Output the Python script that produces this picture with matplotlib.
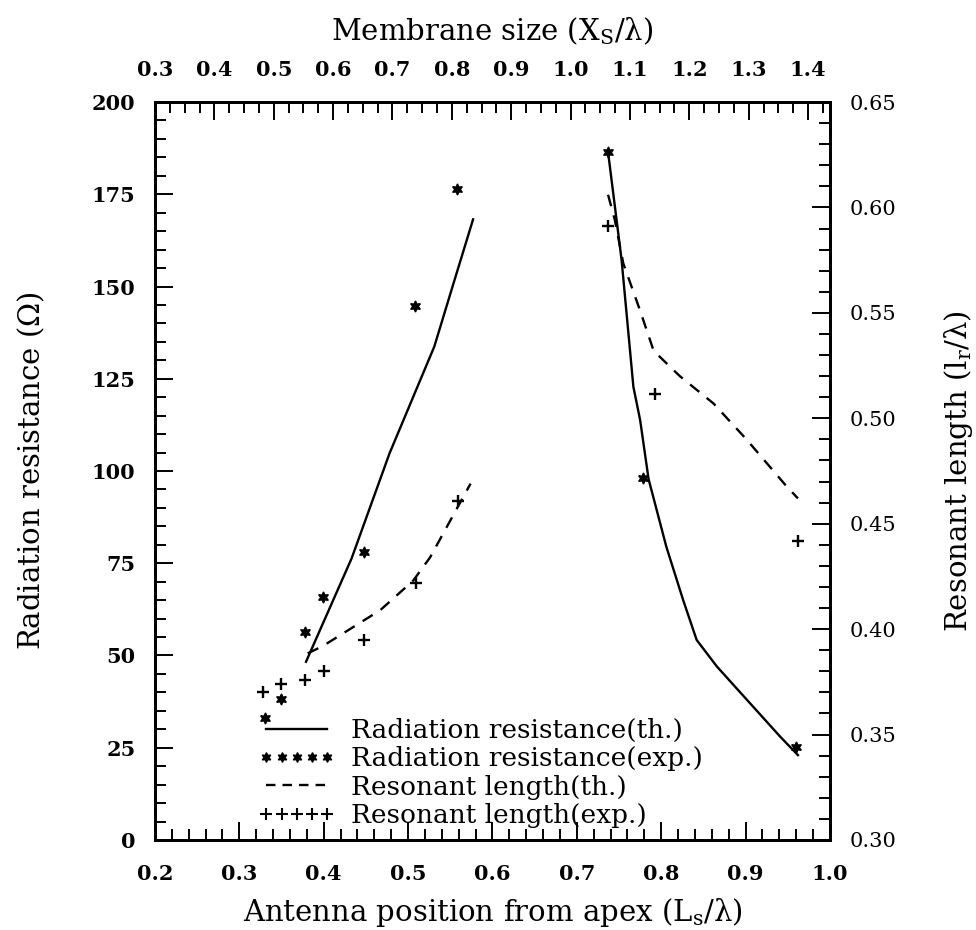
import matplotlib
matplotlib.use("Agg")
import matplotlib.pyplot as plt
from matplotlib.ticker import MultipleLocator, FormatStrFormatter
from matplotlib.lines import Line2D

# ---- data ----
# radiation resistance, theory (two branches)
pos_rth_a = [0.379, 0.433, 0.478, 0.531, 0.554, 0.577]
res_th_a = [48.3, 76.3, 104.8, 133.7, 151.0, 168.2]
pos_rth_b = [0.737, 0.753, 0.767, 0.775, 0.785, 0.806, 0.826, 0.842, 0.866, 0.909, 0.941, 0.962]
res_th_b = [186.4, 157.2, 122.8, 113.8, 97.8, 79.5, 65.0, 54.2, 47.0, 36.1, 28.0, 23.0]

# radiation resistance, experiment
pos_rexp = [0.330, 0.349, 0.378, 0.399, 0.448, 0.508, 0.558, 0.737, 0.778, 0.960]
res_exp = [33.1, 38.2, 56.4, 65.8, 78.0, 144.7, 176.3, 186.4, 98.2, 25.3]

# resonant length, theory (two branches)
pos_lth_a = [0.381, 0.399, 0.435, 0.467, 0.506, 0.526, 0.546, 0.574]
len_th_a = [0.3885, 0.392, 0.401, 0.409, 0.423, 0.434, 0.4486, 0.469]
pos_lth_b = [0.737, 0.745, 0.755, 0.775, 0.791, 0.822, 0.862, 0.901, 0.949, 0.962]
len_th_b = [0.606, 0.594, 0.5735, 0.551, 0.532, 0.520, 0.507, 0.490, 0.4675, 0.462]

# resonant length, experiment
pos_lexp = [0.328, 0.349, 0.378, 0.400, 0.448, 0.509, 0.559, 0.737, 0.793, 0.962]
len_exp = [0.370, 0.374, 0.376, 0.380, 0.395, 0.422, 0.461, 0.591, 0.5115, 0.442]

legend_labels = ["Radiation resistance(th.)", "Radiation resistance(exp.)",
                 "Resonant length(th.)", "Resonant length(exp.)"]

plt.rcParams["font.family"] = "DejaVu Serif"
plt.rcParams["mathtext.fontset"] = "dejavuserif"

fig = plt.figure(figsize=(9.76, 9.30), dpi=100)
ax = fig.add_axes([0.1588, 0.0968, 0.6916, 0.7935])
ax2 = ax.twinx()
ax3 = ax.twiny()

star = (6, 1, 0)
ax.plot(pos_rth_a, res_th_a, color="black", lw=1.7)
ax.plot(pos_rth_b, res_th_b, color="black", lw=1.7)
ax.plot(pos_rexp, res_exp, ls="none", marker=star, ms=8, color="black")
ax2.plot(pos_lth_a, len_th_a, color="black", lw=1.7, dashes=(5, 4))
ax2.plot(pos_lth_b, len_th_b, color="black", lw=1.7, dashes=(5, 4))
ax2.plot(pos_lexp, len_exp, ls="none", marker="+", ms=9, mew=1.7, color="black")

ax.set_xlim(0.2, 1.0)
ax.set_ylim(0, 200)
ax2.set_ylim(0.30, 0.65)
ax3.set_xlim(0.2999, 1.437)

ax.xaxis.set_major_locator(MultipleLocator(0.1))
ax.xaxis.set_minor_locator(MultipleLocator(0.02))
ax.yaxis.set_major_locator(MultipleLocator(25))
ax.yaxis.set_minor_locator(MultipleLocator(5))
ax2.yaxis.set_major_locator(MultipleLocator(0.05))
ax2.yaxis.set_minor_locator(MultipleLocator(0.01))
ax3.xaxis.set_major_locator(MultipleLocator(0.1))
ax3.xaxis.set_minor_locator(MultipleLocator(0.025))
ax.xaxis.set_major_formatter(FormatStrFormatter("%.1f"))
ax3.xaxis.set_major_formatter(FormatStrFormatter("%.1f"))
ax2.yaxis.set_major_formatter(FormatStrFormatter("%.2f"))

for a in (ax, ax2, ax3):
    a.tick_params(which="major", direction="in", length=13, width=1.4)
    a.tick_params(which="minor", direction="in", length=8, width=1.4)
    for s in a.spines.values():
        s.set_linewidth(2)
ax.tick_params(which="both", top=False, right=False)
ax.tick_params(axis="x", labelsize=15, pad=17)
ax.tick_params(axis="y", labelsize=15, pad=14)
ax2.tick_params(axis="y", labelsize=15, pad=14)
ax3.tick_params(axis="x", labelsize=15, pad=16)
for lab in ax.get_xticklabels() + ax.get_yticklabels() + ax3.get_xticklabels():
    lab.set_fontweight("bold")

ax.set_xlabel(r"Antenna position from apex ($\mathregular{L_s/\lambda}$)", fontsize=21, labelpad=9)
ax.set_ylabel(r"Radiation resistance ($\Omega$)", fontsize=21, labelpad=32)
ax2.set_ylabel(r"Resonant length ($\mathregular{l_r/\lambda}$)", fontsize=21, labelpad=33)
ax3.set_xlabel(r"Membrane size ($\mathregular{X_S/\lambda}$)", fontsize=21, labelpad=14)

handles = [Line2D([], [], color="black", lw=1.7),
           Line2D([], [], ls="none", marker=star, ms=7, color="black"),
           Line2D([], [], color="black", lw=1.7, dashes=(4, 3)),
           Line2D([], [], ls="none", marker="+", ms=8, mew=1.5, color="black")]
ax2.legend(handles, legend_labels, loc="lower left", bbox_to_anchor=(0.13, -0.005),
           frameon=False, fontsize=19, numpoints=5, handlelength=2.9,
           handletextpad=0.6, labelspacing=0.12, borderpad=0.1)

fig.savefig("out.png", dpi=100)
